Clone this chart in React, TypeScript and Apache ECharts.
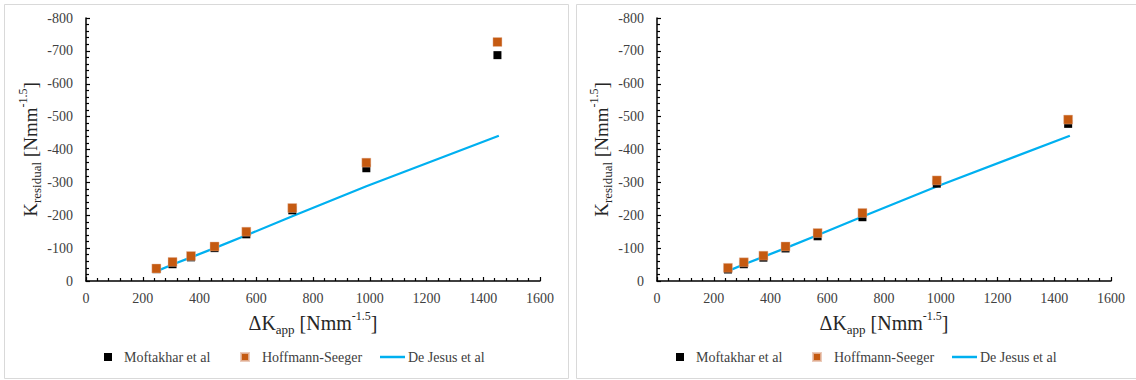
import React, { useEffect, useRef } from "react";
import * as echarts from "echarts";

// ---- data ----
const seriesNames = ["Moftakhar et al", "Hoffmann-Seeger", "De Jesus et al"];

// Left panel
const leftDeltaK = [248, 305, 370, 453, 565, 727, 988, 1450];
const leftMoftakhar = [-36, -51, -72, -100, -142, -215, -343, -687];
const leftHoffmann = [-38, -58, -76, -105, -150, -222, -360, -727];

// Right panel
const rightDeltaK = [250, 306, 375, 453, 566, 724, 986, 1449];
const rightMoftakhar = [-35, -51, -71, -99, -136, -194, -296, -478];
const rightHoffmann = [-40, -57, -77, -105, -146, -207, -306, -491];

// De Jesus et al model line (same in both panels)
const jesusDeltaK = [258, 305, 370, 453, 565, 727, 988, 1455];
const jesusK = [-33, -50, -72, -100, -139, -197, -288, -442];

const xMin = 0;
const xMax = 1600;
const xInterval = 200;
const yMin = -800;
const yMax = 0;
const yInterval = 100;

const FONT = "Liberation Serif, Times New Roman, serif";
const TICK_COLOR = "#404040";
const TITLE_COLOR = "#262626";
const BLACK = "#000000";
const ORANGE = "#C55A11";
const BLUE = "#00B0F0";

const pairs = (xs: number[], ys: number[]) => xs.map((x, i) => [x, ys[i]]);

function titleRich(size: number) {
  return {
    b: { fontSize: size, fontFamily: FONT, color: TITLE_COLOR, lineHeight: 26 },
    sub: { fontSize: 13, fontFamily: FONT, color: TITLE_COLOR, lineHeight: 13, verticalAlign: "bottom" },
    sup: { fontSize: 12, fontFamily: FONT, color: TITLE_COLOR, lineHeight: 18, verticalAlign: "top" },
  };
}

const plainNumber = (v: number) => String(v);

function makeXAxis(gridIndex: number) {
  return {
    type: "value",
    gridIndex,
    min: xMin,
    max: xMax,
    interval: xInterval,
    name: "{b|ΔK}{sub|app}{b| [Nmm}{sup|-1.5}{b|]}",
    nameLocation: "middle",
    nameGap: 26,
    nameTextStyle: { fontFamily: FONT, rich: titleRich(20) },
    axisLine: { show: true, onZero: false, lineStyle: { color: BLACK, width: 1.5 } },
    axisTick: { show: true, inside: true, length: 4, lineStyle: { color: BLACK, width: 1.2 } },
    minorTick: { show: true, splitNumber: 5, length: 3, lineStyle: { color: BLACK, width: 1.2 } },
    splitLine: { show: false },
    axisLabel: {
      color: TICK_COLOR,
      fontFamily: FONT,
      fontSize: 14,
      margin: 10,
      formatter: plainNumber,
    },
  };
}

function makeYAxis(gridIndex: number) {
  return {
    type: "value",
    gridIndex,
    min: yMin,
    max: yMax,
    interval: yInterval,
    inverse: true,
    name: "{b|K}{sub|residual}{b| [Nmm}{sup|-1.5}{b|]}",
    nameLocation: "middle",
    nameRotate: 90,
    nameGap: 38,
    nameTextStyle: { fontFamily: FONT, rich: titleRich(19) },
    axisLine: { show: true, onZero: false, lineStyle: { color: BLACK, width: 1.5 } },
    axisTick: { show: true, inside: true, length: 4, lineStyle: { color: BLACK, width: 1.2 } },
    minorTick: { show: true, splitNumber: 5, length: 3, lineStyle: { color: BLACK, width: 1.2 } },
    splitLine: { show: false },
    axisLabel: {
      color: TICK_COLOR,
      fontFamily: FONT,
      fontSize: 14,
      margin: 13,
      formatter: plainNumber,
    },
  };
}

function makeSeries(idx: number, xs: number[], moft: number[], hoff: number[]) {
  return [
    {
      name: seriesNames[0],
      type: "scatter",
      xAxisIndex: idx,
      yAxisIndex: idx,
      symbol: "rect",
      symbolSize: 8,
      itemStyle: { color: BLACK, opacity: 1 },
      data: pairs(xs, moft),
      z: 3,
    },
    {
      name: seriesNames[1],
      type: "scatter",
      xAxisIndex: idx,
      yAxisIndex: idx,
      symbol: "rect",
      symbolSize: 9,
      itemStyle: { color: ORANGE, opacity: 1, borderColor: "rgba(230,190,170,0.8)", borderWidth: 0.5 },
      data: pairs(xs, hoff),
      z: 4,
    },
    {
      name: seriesNames[2],
      type: "line",
      xAxisIndex: idx,
      yAxisIndex: idx,
      symbol: "none",
      showSymbol: false,
      lineStyle: { color: BLUE, width: 2.25 },
      itemStyle: { color: BLUE },
      data: pairs(jesusDeltaK, jesusK),
      z: 2,
    },
  ];
}

function makeLegends(offsetX: number) {
  const textStyle = { color: TICK_COLOR, fontFamily: FONT, fontSize: 14 };
  return [
    {
      left: 104 + offsetX,
      top: 350,
      padding: 0,
      itemWidth: 8,
      itemHeight: 8,
      icon: "rect",
      data: [seriesNames[0]],
      textStyle: { ...textStyle, padding: [0, 0, 0, 7] },
    },
    {
      left: 240 + offsetX,
      top: 350,
      padding: 0,
      itemWidth: 8,
      itemHeight: 8,
      icon: "rect",
      data: [seriesNames[1]],
      textStyle: { ...textStyle, padding: [0, 0, 0, 8] },
    },
    {
      left: 380 + offsetX,
      top: 350,
      padding: 0,
      itemWidth: 25,
      itemHeight: 2.5,
      icon: "rect",
      data: [seriesNames[2]],
      textStyle: { ...textStyle, padding: [0, 0, 0, -2] },
    },
  ];
}

export default function App() {
  const ref = useRef<HTMLDivElement>(null);

  useEffect(() => {
    document.body.style.margin = "0";
    const chart = echarts.init(ref.current!, null, { renderer: "svg" });
    const option = {
      animation: false,
      backgroundColor: "#ffffff",
      textStyle: { fontFamily: FONT },
      graphic: [
        {
          type: "rect",
          shape: { x: 4.5, y: 4.5, width: 564, height: 374 },
          style: { fill: "none", stroke: "#d9d9d9", lineWidth: 1 },
          silent: true,
        },
        {
          type: "rect",
          shape: { x: 576.5, y: 4.5, width: 570, height: 374 },
          style: { fill: "none", stroke: "#d9d9d9", lineWidth: 1 },
          silent: true,
        },
      ],
      grid: [
        { left: 86, top: 18, width: 454, height: 263 },
        { left: 657, top: 18, width: 454, height: 263 },
      ],
      xAxis: [makeXAxis(0), makeXAxis(1)],
      yAxis: [makeYAxis(0), makeYAxis(1)],
      legend: [...makeLegends(0), ...makeLegends(572)],
      series: [
        ...makeSeries(0, leftDeltaK, leftMoftakhar, leftHoffmann),
        ...makeSeries(1, rightDeltaK, rightMoftakhar, rightHoffmann),
      ],
    };
    chart.setOption(option as any);
    return () => chart.dispose();
  }, []);

  return <div ref={ref} style={{ width: 1136, height: 380 }} />;
}
